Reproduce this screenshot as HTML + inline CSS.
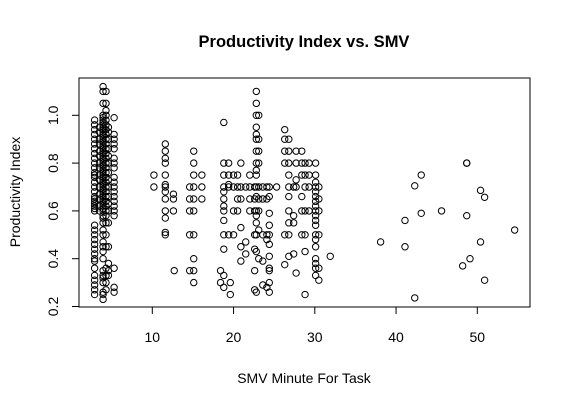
<!DOCTYPE html>
<html><head><meta charset="utf-8"><style>
body{margin:0;background:#fff;}
svg{display:block;font-family:"Liberation Sans",Arial,sans-serif;}
</style></head><body>
<svg id="chart" width="571" height="405">
<text x="304" y="47" text-anchor="middle" font-size="16.5" font-weight="bold">Productivity Index vs. SMV</text>
<text x="304" y="383" text-anchor="middle" font-size="14">SMV Minute For Task</text>
<text transform="translate(20,192) rotate(-90)" text-anchor="middle" font-size="14">Productivity Index</text>
<rect x="79" y="78" width="451" height="229" fill="none" stroke="#000"/>
<g id="axes"></g><g id="pts"></g>
</svg>
<script>
const xTicks=[10,20,30,40,50];
const yTicks=[0.2,0.4,0.6,0.8,1.0];
const yTickLabels=["0.2","0.4","0.6","0.8","1.0"];
const groupSmv=[2.9,3.5,3.94,4.3,4.6,5.3,10.2,11.6,12.6,12.7,14.6,15.1,16.1,18.4,18.8,19.4,19.6,20,20.5,20.9,21.5,22,22.6,22.8,23.1,23.6,24.1,24.4,25.3,26.3,26.8,27.4,27.7,28.4,28.8,29.3,30.1,30.5,31.9,38.1,41.1,42.3,43.1,45.6,48.2,48.7,49.1,50.4,50.9,54.6];
const groupProd=[
[0.25,0.27,0.29,0.31,0.33,0.36,0.39,0.4,0.42,0.44,0.46,0.48,0.5,0.52,0.54,0.6,0.61,0.62,0.63,0.64,0.65,0.66,0.68,0.7,0.72,0.74,0.75,0.76,0.78,0.8,0.82,0.84,0.86,0.88,0.9,0.92,0.94,0.96,0.98],
[0.6,0.62,0.65,0.67,0.7,0.73,0.75,0.78,0.8,0.83,0.85,0.88,0.9,0.93,0.95],
[0.23,0.25,0.26,0.3,0.32,0.33,0.35,0.4,0.43,0.45,0.47,0.5,0.52,0.55,0.57,0.58,0.6,0.61,0.62,0.63,0.64,0.65,0.66,0.67,0.68,0.69,0.7,0.71,0.72,0.73,0.74,0.75,0.76,0.77,0.78,0.79,0.8,0.81,0.82,0.83,0.84,0.85,0.86,0.87,0.88,0.89,0.9,0.91,0.92,0.93,0.94,0.95,0.96,0.97,0.98,0.99,1.0,1.05,1.1,1.12],
[0.27,0.3,0.33,0.36,0.45,0.5,0.55,0.58,0.6,0.62,0.64,0.66,0.68,0.7,0.72,0.74,0.76,0.78,0.8,0.82,0.84,0.86,0.88,0.9,0.92,0.94,0.96,0.98,1.0,1.02,1.05,1.1],
[0.33,0.35,0.38,0.45,0.55,0.6,0.63,0.66,0.7,0.73,0.76,0.8,0.83,0.86,0.9,0.93,0.95],
[0.26,0.28,0.36,0.58,0.6,0.62,0.64,0.66,0.68,0.7,0.72,0.74,0.78,0.8,0.82,0.86,0.88,0.9,0.92,0.99],
[0.75,0.7],
[0.88,0.85,0.82,0.8,0.75,0.71,0.7,0.68,0.65,0.6,0.57,0.51,0.5],
[0.67,0.65,0.6],[0.35],
[0.7,0.65,0.6,0.5,0.35],
[0.85,0.8,0.75,0.7,0.65,0.6,0.5,0.4,0.35,0.3],
[0.75,0.7,0.65],[0.35,0.3],
[0.97,0.8,0.75,0.7,0.68,0.65,0.62,0.6,0.56,0.5,0.44,0.33,0.28],
[0.8,0.75,0.71,0.7,0.5],[0.3,0.25],
[0.75,0.7,0.6,0.5],[0.75,0.7,0.65,0.6],
[0.8,0.7,0.65,0.53,0.45,0.39],[0.7,0.47,0.42],[0.75,0.7,0.65,0.6],
[0.7,0.65,0.6,0.5,0.44,0.35,0.27],
[1.1,1.05,1.0,0.95,0.92,0.9,0.85,0.8,0.77,0.75,0.7,0.66,0.6,0.58,0.55,0.5,0.43,0.26],
[1.0,0.9,0.85,0.8,0.7,0.65,0.6,0.52,0.4],
[0.7,0.65,0.5,0.39,0.29],[0.7,0.65,0.5,0.48,0.28],
[0.7,0.66,0.59,0.54,0.5,0.46,0.41,0.36,0.35,0.3,0.26],
[0.7],
[0.94,0.9,0.85,0.8,0.5,0.375],
[0.9,0.85,0.8,0.75,0.7,0.66,0.6,0.55,0.5,0.41],
[0.7,0.58,0.55,0.42],[0.85,0.8,0.73,0.7,0.34],
[0.85,0.8,0.75,0.66,0.6,0.5],
[0.8,0.75,0.7,0.6,0.5,0.43,0.25],
[0.8,0.75,0.7,0.6],
[0.8,0.75,0.72,0.7,0.68,0.66,0.64,0.62,0.6,0.58,0.56,0.54,0.5,0.48,0.45,0.4,0.38,0.36,0.33],
[0.7,0.65,0.6,0.5,0.36,0.31],
[0.41],[0.47],[0.56,0.45],[0.705,0.236],[0.75,0.59],[0.6],[0.37],[0.8,0.8,0.58],[0.4],[0.686,0.47],[0.657,0.31],[0.52]
];
const NS="http://www.w3.org/2000/svg";
function xs(v){return 152.3+(v-10)*8.125;}
function ys(v){return 115.3+(1.0-v)*239;}
const axes=document.getElementById('axes');
const pts=document.getElementById('pts');
function mk(tag,attrs,parent){const e=document.createElementNS(NS,tag);for(const k in attrs)e.setAttribute(k,attrs[k]);parent.appendChild(e);return e;}
mk('line',{x1:xs(xTicks[0]),x2:xs(xTicks[xTicks.length-1]),y1:307,y2:307,stroke:'#000'},axes);
xTicks.forEach(t=>{
  const l=mk('line',{x1:xs(t),x2:xs(t),y1:307,y2:314,stroke:'#000'},axes);
  
  
  const tx=mk('text',{x:xs(t),y:342,'text-anchor':'middle','font-size':'14'},axes);
  tx.textContent=String(t);
  
  
});
mk('line',{x1:79,x2:79,y1:ys(yTicks[0]),y2:ys(yTicks[yTicks.length-1]),stroke:'#000'},axes);
yTicks.forEach((t,i)=>{
  const l=mk('line',{x1:72,x2:79,y1:ys(t),y2:ys(t),stroke:'#000'},axes);
  
  
  const tx=mk('text',{transform:`translate(58,${ys(t)}) rotate(-90)`,'text-anchor':'middle','font-size':'14'},axes);
  tx.textContent=yTickLabels[i];
  
  
});
groupSmv.forEach((sx,gi)=>{
  groupProd[gi].forEach(p=>{
    const c=mk('circle',{cx:xs(sx),cy:ys(p),r:3.2,fill:'none',stroke:'#000','stroke-width':1},pts);
    
    
  });
});
</script>
</body></html>
